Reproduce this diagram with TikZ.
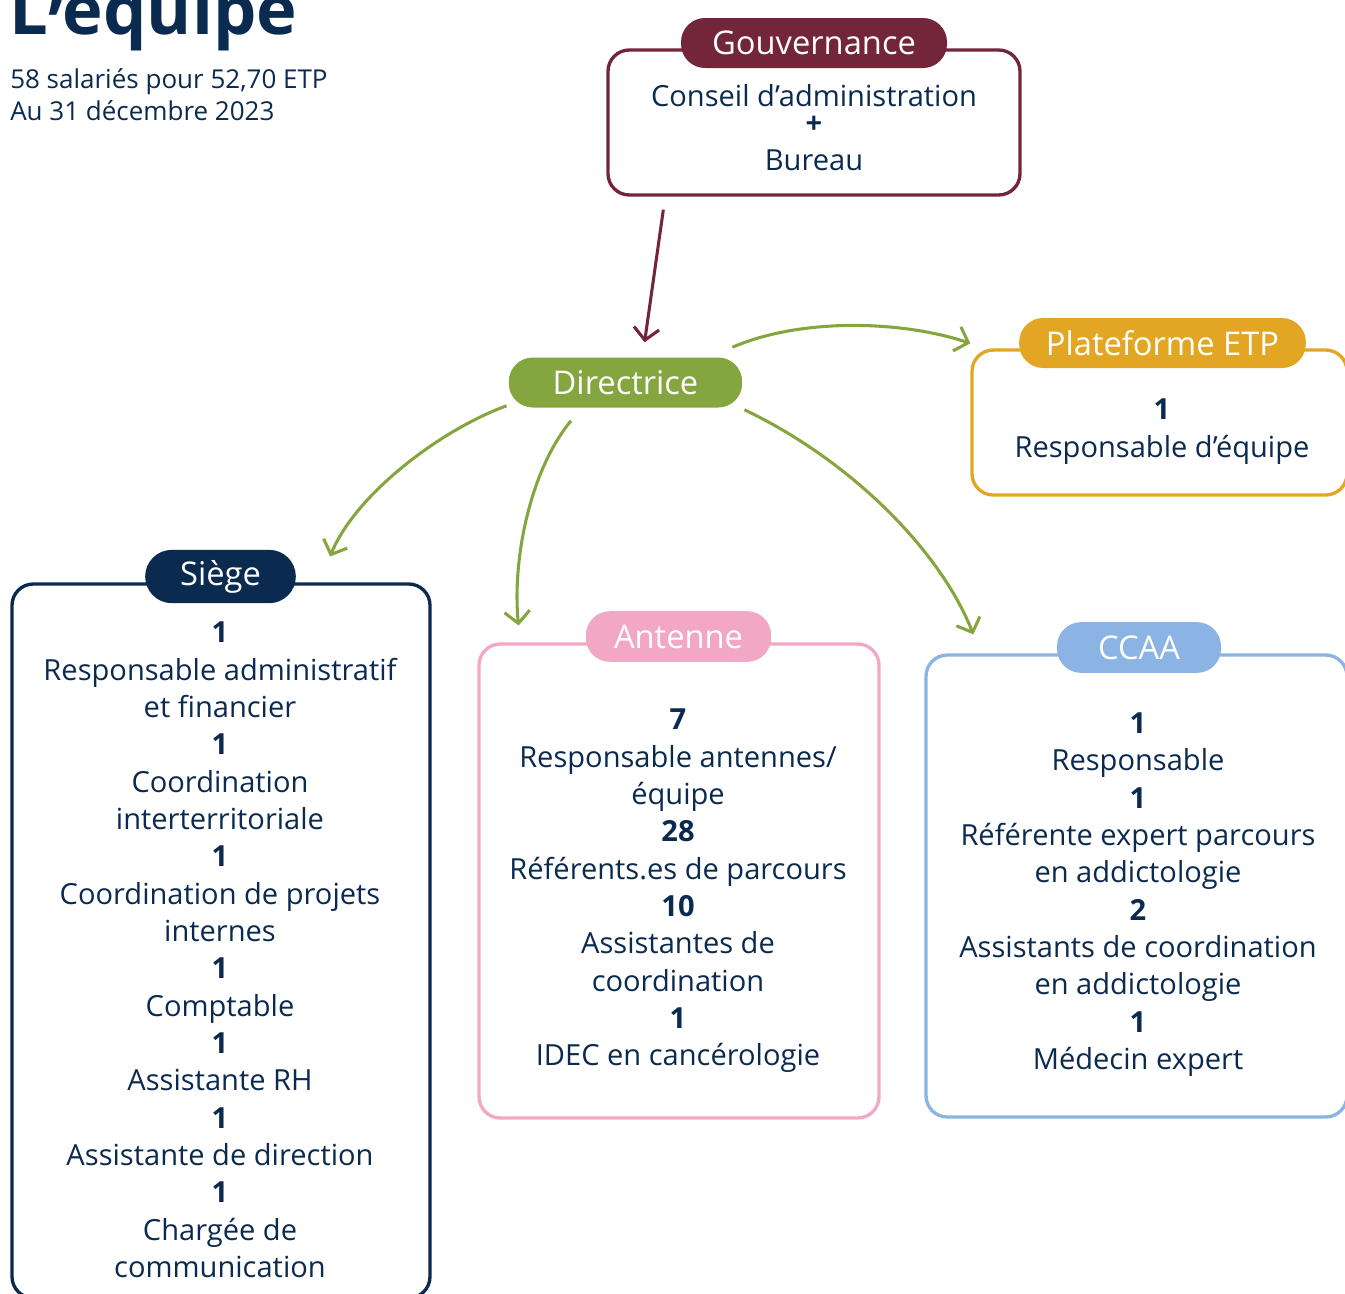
\documentclass[tikz,border=0pt]{standalone}
\usepackage{fontspec}
\setmainfont{Open Sans}
\usetikzlibrary{arrows.meta,fit,calc}
\definecolor{navy}{HTML}{0B2A4F}
\definecolor{maroon}{HTML}{73263A}
\definecolor{leaf}{HTML}{85A63E}
\definecolor{amber}{HTML}{E3A624}
\definecolor{rose}{HTML}{F2A8C4}
\definecolor{sky}{HTML}{8BB3E3}
\tikzset{
  frame/.style={draw, line width=2.5pt, rounded corners=16pt, inner sep=0pt},
  pill/.style={rounded corners=18pt, minimum height=37.5pt, text=white, inner sep=0pt,
    font=\fontsize{24.5}{28}\selectfont},
  body/.style={text=navy, align=center, inner sep=0pt, font=\fontsize{21.8}{28}\selectfont},
  conn/.style={line width=2.3pt, -{Straight Barb[length=9pt,width=19pt]}},
}
\begin{document}
\begin{tikzpicture}[x=0.75pt,y=-0.75pt]
\useasboundingbox (0,0) rectangle (1345,1293);
\clip (0,0) rectangle (1345,1293);

% title
\node[anchor=base west, inner sep=0pt, text=navy, font=\bfseries\fontsize{51.5}{54}\selectfont] (title) at (9,34) {L\raisebox{-0.2em}{’}équipe};
\node[anchor=base west, inner sep=0pt, text=navy, font=\fontsize{19.5}{24}\selectfont] (sub1) at (10,88) {58 salariés pour 52,70 ETP};
\node[anchor=base west, inner sep=0pt, text=navy, font=\fontsize{19.5}{24}\selectfont] (sub2) at (10,120) {Au 31 décembre 2023};

% frames
\node[frame, draw=maroon, fit={(608,50) (1020,195)}] (gov) {};
\node[frame, draw=amber, fit={(972,350) (1347,495)}] (plat) {};
\node[frame, draw=navy, fit={(12,584) (430,1298)}] (siege) {};
\node[frame, draw=rose, fit={(479,644) (879,1118)}] (ant) {};
\node[frame, draw=sky, fit={(926,655) (1347,1117)}] (ccaa) {};

% pills
\node[pill, fill=maroon, minimum width=199.5pt] (govp) at (814,43) {Gouvernance};
\node[pill, fill=leaf, minimum width=175pt] (dir) at (625.5,382.5) {Directrice};
\node[pill, fill=amber, minimum width=215pt] (platp) at (1162.5,343) {Plateforme ETP};
\node[pill, fill=navy, minimum width=113pt, minimum height=40pt, rounded corners=20pt] (siegep) at (220.5,576.5) {Siège};
\node[pill, fill=rose, minimum width=139pt, minimum height=38pt] (antp) at (678.5,636.5) {Antenne};
\node[pill, fill=sky, minimum width=123pt, minimum height=38pt] (ccaap) at (1139,647.5) {CCAA};

% contents
\node[body] (govt1) at (814,96) {Conseil d’administration};
\node[body, font=\bfseries\fontsize{21.8}{28}\selectfont] (govt2) at (814,125) {+};
\node[body] (govt3) at (814,160) {Bureau};

\node[body] (platt) at (1162,431.5) {\textbf{1}\\Responsable d’équipe};

\node[body] (sieget) at (220,950) {\textbf{1}\\Responsable administratif\\et financier\\\textbf{1}\\Coordination\\interterritoriale\\\textbf{1}\\Coordination de projets\\internes\\\textbf{1}\\Comptable\\\textbf{1}\\Assistante RH\\\textbf{1}\\Assistante de direction\\\textbf{1}\\Chargée de\\communication};

\node[body] (antt) at (678,891) {\textbf{7}\\Responsable antennes/\\équipe\\\textbf{28}\\Référents.es de parcours\\\textbf{10}\\Assistantes de\\coordination\\\textbf{1}\\IDEC en cancérologie};

\node[body] (ccaat) at (1138,894.5) {\textbf{1}\\Responsable\\\textbf{1}\\Référente expert parcours\\en addictologie\\\textbf{2}\\Assistants de coordination\\en addictologie\\\textbf{1}\\Médecin expert};

% connectors
\draw[conn, maroon] ($(gov.south west)+(57,13)$) -- ($(dir.north west)+(136,-15)$);
\draw[conn, leaf] ($(dir.north east)+(-10,-10)$) .. controls (800,318) and (900,320) .. ($(plat.north west)+(0,-5)$);
\draw[conn, leaf] ($(dir.south west)+(-2,-2)$) .. controls (440,430) and (355,495) .. ($(siegep.east)+(34,-20)$);
\draw[conn, leaf] ($(dir.south)+(-54.5,13)$) .. controls (530,470) and (512,560) .. ($(antp.west)+(-67,-11)$);
\draw[conn, leaf] ($(dir.south east)+(2,2)$) .. controls (850,460) and (940,550) .. ($(ccaa.north west)+(49,-19)$);
\end{tikzpicture}
\end{document}
